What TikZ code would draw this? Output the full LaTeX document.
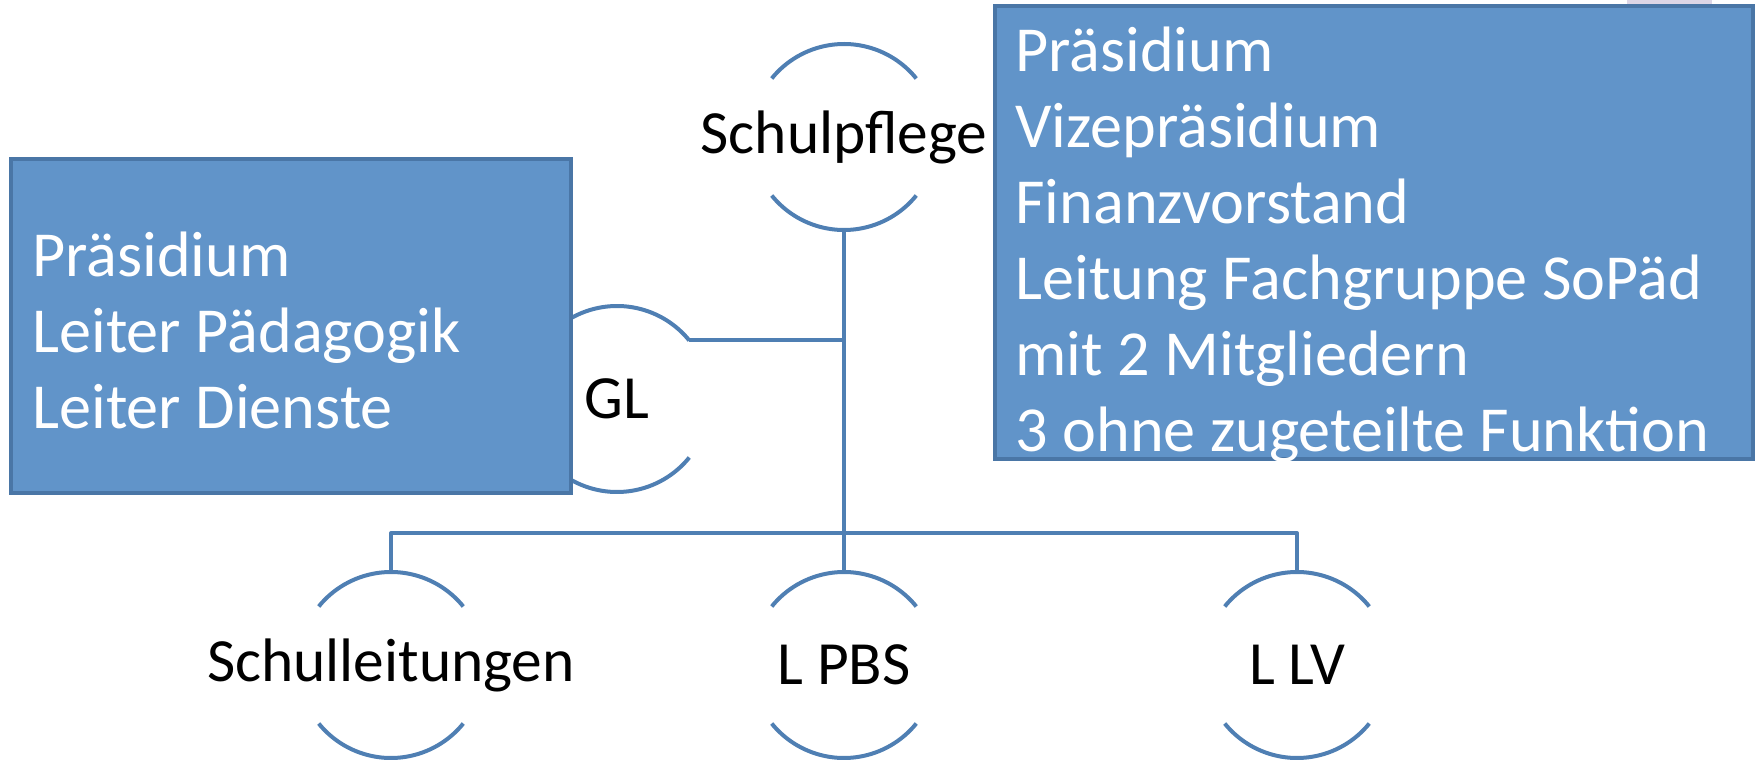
\documentclass[tikz,border=0pt]{standalone}
\usepackage{fontspec}
\setmainfont{Carlito}
\usetikzlibrary{calc}
\definecolor{linie}{HTML}{4F7FB3}
\definecolor{kasten}{HTML}{6194C9}
\definecolor{rand}{HTML}{4A76A6}
\definecolor{schatten}{HTML}{DDD6E6}

\begin{document}
\begin{tikzpicture}[x=0.5pt,y=-0.5pt,
  conn/.style={draw=linie,line width=2pt},
  ring/.style={circle,minimum size=93pt,inner sep=0pt,outer sep=0pt,
    label={[font=\fontsize{30.7pt}{36pt}\selectfont,text=black]center:#1}},
  box/.style={draw=rand,fill=kasten,line width=2pt},
  liste/.style={text=white,align=left,inner sep=0pt,anchor=west,
    font=\fontsize{32.1pt}{38pt}\selectfont}]
\useasboundingbox (0,0) rectangle (1756,764);
\fill[schatten] (1627,0) rectangle (1712,5);
\node[ring=Schulpflege] (sp) at (844,137) {};
\node[ring=GL] (gl) at (617,399) {};
\node[ring=Schulleitungen] (sl) at (391,665) {};
\node[ring=L PBS] (pbs) at (844,665) {};
\node[ring=L LV] (llv) at (1297,665) {};
\coordinate (bus) at (844,533);
\foreach \n in {sp,gl,sl,pbs,llv}{
  \draw[conn] (\n.39) arc[start angle=39,end angle=141,radius=46.5pt];
  \draw[conn] (\n.219) arc[start angle=219,end angle=321,radius=46.5pt];
}
\draw[conn]
(sp.south) edge (pbs.north)
(gl.39) edge (gl.39 -| sp.south)
;
\draw[conn,line join=round] (sl.north) |- (bus) -| (llv.north);
\node[box,minimum width=280pt,minimum height=167pt] (glbox) at (291,326) {};
\node[liste] (glliste) at ($(glbox.west)+(23,4)$)
  {Präsidium\\Leiter Pädagogik\\Leiter Dienste};
\node[box,minimum width=379pt,minimum height=226.5pt] (spbox) at (1374,232.5) {};
\node[liste] (spliste) at ($(spbox.west)+(22,12)$)
  {Präsidium\\Vizepräsidium\\Finanzvorstand\\Leitung Fachgruppe SoPäd\\mit 2 Mitgliedern\\3 ohne zugeteilte Funktion};
\end{tikzpicture}
\end{document}
